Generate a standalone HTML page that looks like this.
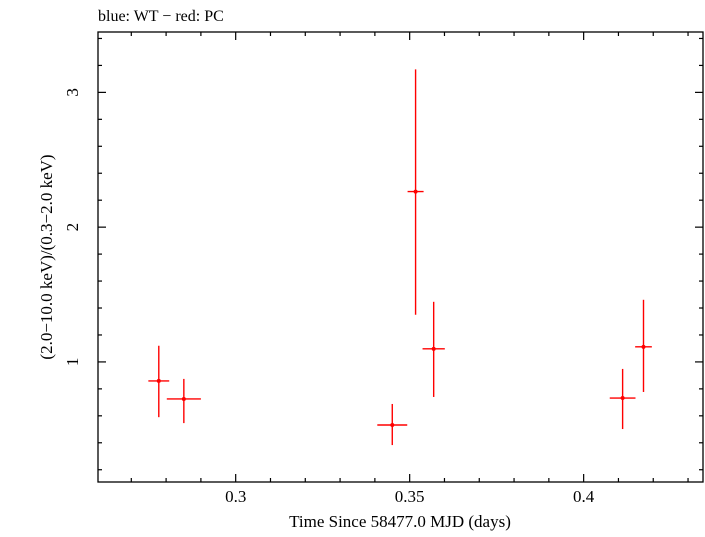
<!DOCTYPE html>
<html><head><meta charset="utf-8"><style>
body{margin:0;background:#fff;width:705px;height:532px;overflow:hidden}
svg text{font-family:"Liberation Serif",serif;fill:#000}
</style></head><body>
<svg id="chart" width="705" height="532" xmlns="http://www.w3.org/2000/svg">
<text x="98" y="21" font-size="16">blue: WT − red: PC</text>
<g id="axes"></g>
<g id="marks"></g>
<text x="400" y="527" font-size="17" text-anchor="middle">Time Since 58477.0 MJD (days)</text>
<text transform="translate(52,257) rotate(-90)" font-size="17" text-anchor="middle">(2.0−10.0 keV)/(0.3−2.0 keV)</text>
</svg>
<script>
const times=[0.2779,0.2851,0.3450,0.3517,0.3569,0.4112,0.4172];
const timeErr=[0.0030,0.0049,0.0043,0.0023,0.0032,0.0037,0.0024];
const ratios=[0.859,0.725,0.532,2.264,1.097,0.732,1.112];
const ratioHi=[1.12,0.874,0.688,3.171,1.446,0.948,1.461];
const ratioLo=[0.59,0.546,0.383,1.35,0.74,0.502,0.777];
const xTicks=[0.3,0.35,0.4];
const xTickLabels=["0.3","0.35","0.4"];
const yTicks=[1,2,3];
const yTickLabels=["1","2","3"];
const X0=98,X1=703,Y0=482,Y1=32;
const xMin=0.26043,xMax=0.4343,yMin=0.109,yMax=3.448;
const sx=v=>X0+(v-xMin)/(xMax-xMin)*(X1-X0);
const sy=v=>Y0-(v-yMin)/(yMax-yMin)*(Y0-Y1);
const NS="http://www.w3.org/2000/svg";
function mk(tag,attrs,parent){const e=document.createElementNS(NS,tag);for(const k in attrs)e.setAttribute(k,attrs[k]);parent.appendChild(e);return e;}
const ax=document.getElementById('axes');
const frame=mk('rect',{x:X0,y:Y1,width:X1-X0,height:Y0-Y1,fill:'none',stroke:'#000','stroke-width':1.3},ax);


// x minor/major ticks
for(let i=Math.ceil(xMin*100);i<=Math.floor(xMax*100);i++){
  const v=i/100,x=sx(v),major=(i%5===0),L=major?8:4;
  const t1=mk('line',{x1:x,x2:x,y1:Y0,y2:Y0-L,stroke:'#000','stroke-width':1.2},ax);
  
  
  const t2=mk('line',{x1:x,x2:x,y1:Y1,y2:Y1+L,stroke:'#000','stroke-width':1.2},ax);
  
  
}
xTicks.forEach((v,i)=>{
  const t=mk('text',{x:sx(v),y:Y0+20,'font-size':17,'text-anchor':'middle'},ax);
  t.textContent=xTickLabels[i];
  
  
});
for(let i=Math.ceil(yMin*5);i<=Math.floor(yMax*5);i++){
  const v=i/5,y=sy(v),major=(i%5===0),L=major?8:4;
  const t1=mk('line',{x1:X0,x2:X0+L,y1:y,y2:y,stroke:'#000','stroke-width':1.2},ax);
  
  
  const t2=mk('line',{x1:X1,x2:X1-L,y1:y,y2:y,stroke:'#000','stroke-width':1.2},ax);
  
  
}
yTicks.forEach((v,i)=>{
  const t=mk('text',{transform:`translate(${X0-20},${sy(v)}) rotate(-90)`,'font-size':17,'text-anchor':'middle'},ax);
  t.textContent=yTickLabels[i];
  
  
});
const mg=document.getElementById('marks');
times.forEach((t,i)=>{
  const g=mk('g',{},mg);
  
  
  mk('line',{x1:sx(t-timeErr[i]),x2:sx(t+timeErr[i]),y1:sy(ratios[i]),y2:sy(ratios[i]),stroke:'#f00','stroke-width':1.4},g);
  mk('line',{x1:sx(t),x2:sx(t),y1:sy(ratioLo[i]),y2:sy(ratioHi[i]),stroke:'#f00','stroke-width':1.4},g);
  mk('circle',{cx:sx(t),cy:sy(ratios[i]),r:2,fill:'#f00'},g);
});
</script>
</body></html>
